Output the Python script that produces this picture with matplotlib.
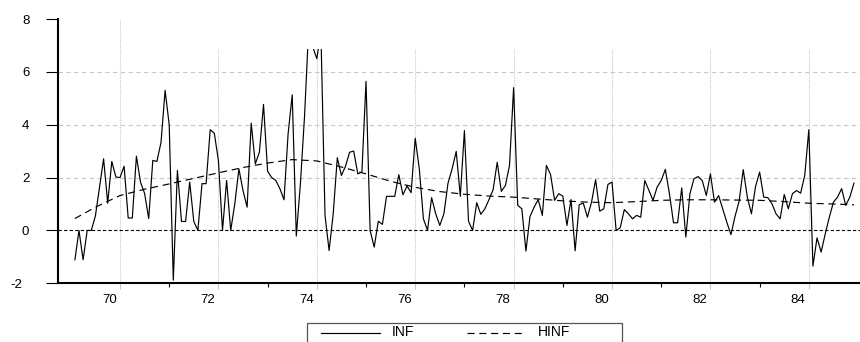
import numpy as np
import matplotlib
matplotlib.use("Agg")
import matplotlib.pyplot as plt
from matplotlib.patches import Rectangle
from matplotlib.lines import Line2D
from matplotlib.transforms import ScaledTranslation, IdentityTransform

plt.rcParams['font.family'] = ['Liberation Sans', 'DejaVu Sans']

# monthly inflation, Feb 1969 .. Dec 1984
inf = [-1.11, 0.0, -1.11, 0.0, 0.0, 0.55, 1.64, 2.71, 1.03, 2.61, 2.02,
       2.0, 2.43, 0.47, 0.47, 2.81, 1.83, 1.40, 0.45, 2.65, 2.61, 3.33, 5.30,
       4.0, -1.88, 2.27, 0.34, 0.34, 1.83, 0.34, 0.0, 1.77, 1.77, 3.81, 3.68,
       2.65, 0.0, 1.89, 0.0, 1.01, 2.33, 1.51, 0.88, 4.06, 2.52, 2.96, 4.77,
       2.24, 2.0, 1.89, 1.58, 1.16, 3.66, 5.13, -0.21, 1.77, 4.3, 7.6, 6.95,
       6.5, 7.5, 0.57, -0.76, 0.63, 2.75, 2.08, 2.43, 2.96, 3.0, 2.14, 2.21,
       5.64, 0.0, -0.63, 0.35, 0.23, 1.29, 1.29, 1.29, 2.11, 1.35, 1.68, 1.43,
       3.49, 2.33, 0.44, 0.0, 1.24, 0.63, 0.19, 0.63, 1.79, 2.33, 2.99, 1.29,
       3.78, 0.35, 0.0, 1.05, 0.61, 0.82, 1.17, 1.54, 2.58, 1.48, 1.70, 2.46,
       5.40, 0.95, 0.82, -0.78, 0.53, 0.88, 1.17, 0.57, 2.46, 2.12, 1.14, 1.39,
       1.30, 0.19, 1.17, -0.77, 0.98, 1.03, 0.50, 1.07, 1.92, 0.73, 0.82, 1.74,
       1.83, 0.0, 0.10, 0.79, 0.63, 0.44, 0.57, 0.50, 1.89, 1.51, 1.14, 1.64,
       1.89, 2.31, 1.39, 0.29, 0.29, 1.61, -0.25, 1.39, 1.96, 2.04, 1.89, 1.32,
       2.14, 1.07, 1.32, 0.82, 0.31, -0.16, 0.53, 1.11, 2.30, 1.26, 0.63, 1.66,
       2.21, 1.26, 1.24, 1.01, 0.63, 0.44, 1.36, 0.82, 1.39, 1.51, 1.41, 2.08,
       3.81, -1.35, -0.28, -0.82, -0.13, 0.50, 1.07, 1.26, 1.58, 0.95, 1.26,
       1.79]
inf_t = 69 + np.arange(1, len(inf) + 1) / 12.0

# smoothed trend (read every half year)
hinf_t = [69.083, 69.5, 70.0, 70.5, 71.0, 71.5, 72.0, 72.5, 73.0, 73.5,
          74.0, 74.5, 75.0, 75.5, 76.0, 76.5, 77.0, 77.5, 78.0, 78.5, 79.0,
          79.5, 80.0, 80.5, 81.0, 81.5, 82.0, 82.5, 83.0, 83.5, 84.0, 84.5,
          84.917]
hinf = [0.45, 0.88, 1.32, 1.56, 1.76, 1.97, 2.18, 2.38, 2.55, 2.68, 2.63,
        2.40, 2.14, 1.86, 1.63, 1.47, 1.37, 1.30, 1.26, 1.19, 1.12, 1.07,
        1.05, 1.09, 1.14, 1.16, 1.16, 1.15, 1.14, 1.09, 1.03, 1.0, 0.97]

year_ticks = [70, 72, 74, 76, 78, 80, 82, 84]
y_ticks = [-2, 0, 2, 4, 6, 8]

W, H = 860, 342
fig = plt.figure(figsize=(W / 100, H / 100), dpi=100)
ax = fig.add_axes([58.3 / W, (H - 283.3) / H, (W - 58.3) / W, (283.3 - 19) / H])
ax.set_xlim(68.746, 85.04)
ax.set_ylim(-2, 8)

grid_c = '#c8c8c8'
for yv in [2, 4, 6]:
    ax.axhline(yv, color=grid_c, lw=0.8, ls=(0, (4, 3)), zorder=1)
for xv in year_ticks:
    top = 8 if xv == 70 else 6.85
    ax.vlines(xv, -2, top, color=grid_c, lw=0.8, ls=(0, (1, 1)), zorder=1)
ax.axhline(0, color='black', lw=0.8, ls=(0, (3, 2)), zorder=2)

clip = Rectangle((60, -3), 40, 9.87, transform=ax.transData)
ln, = ax.plot(inf_t, inf, color='black', lw=0.85, zorder=3)
ln.set_clip_path(clip)
ax.plot(hinf_t, hinf, color='black', lw=0.85, ls=(0, (6, 4)), zorder=3)

for s in ['top', 'right']:
    ax.spines[s].set_visible(False)
for s in ['left', 'bottom']:
    ax.spines[s].set_linewidth(1.5)

ax.set_yticks(y_ticks)
ax.set_yticklabels([str(v) for v in y_ticks])
ax.tick_params(axis='y', length=8.4, width=0.8, pad=12.5, labelsize=9.5)
ax.set_xticks(year_ticks)
ax.set_xticklabels([str(v) for v in year_ticks])
ax.set_xticks([71, 73, 75, 77, 79, 81, 83], minor=True)
ax.tick_params(axis='x', which='major', length=4.3, width=0.8, color=grid_c,
               pad=3.5, labelsize=9.5)
ax.tick_params(axis='x', which='minor', length=3, width=0.8, color='black')

shift_x = ScaledTranslation(-10.6 / 100, 0, fig.dpi_scale_trans)
for lab in ax.get_xticklabels():
    lab.set_transform(lab.get_transform() + shift_x)
neg = ax.get_yticklabels()[0]
neg.set_transform(neg.get_transform() + ScaledTranslation(-6.6 / 100, 0, fig.dpi_scale_trans))

# legend box at the bottom, partly outside the figure
px = IdentityTransform()
fig.add_artist(Rectangle((306.5, H - 350), 315, 350 - 322.5, transform=px,
                         fill=False, edgecolor='#555555', lw=0.9))
ly = H - 332.5
fig.add_artist(Line2D([320.7, 380], [ly, ly], transform=px, color='black', lw=0.85))
fig.add_artist(Line2D([466.7, 521.7], [ly, ly], transform=px, color='black',
                      lw=0.85, ls=(0, (6, 4))))
fig.text(391.7 / W, ly / H, 'INF', fontsize=10, va='center', ha='left')
fig.text(538.3 / W, ly / H, 'HINF', fontsize=10, va='center', ha='left')

fig.savefig('out.png', dpi=100)
